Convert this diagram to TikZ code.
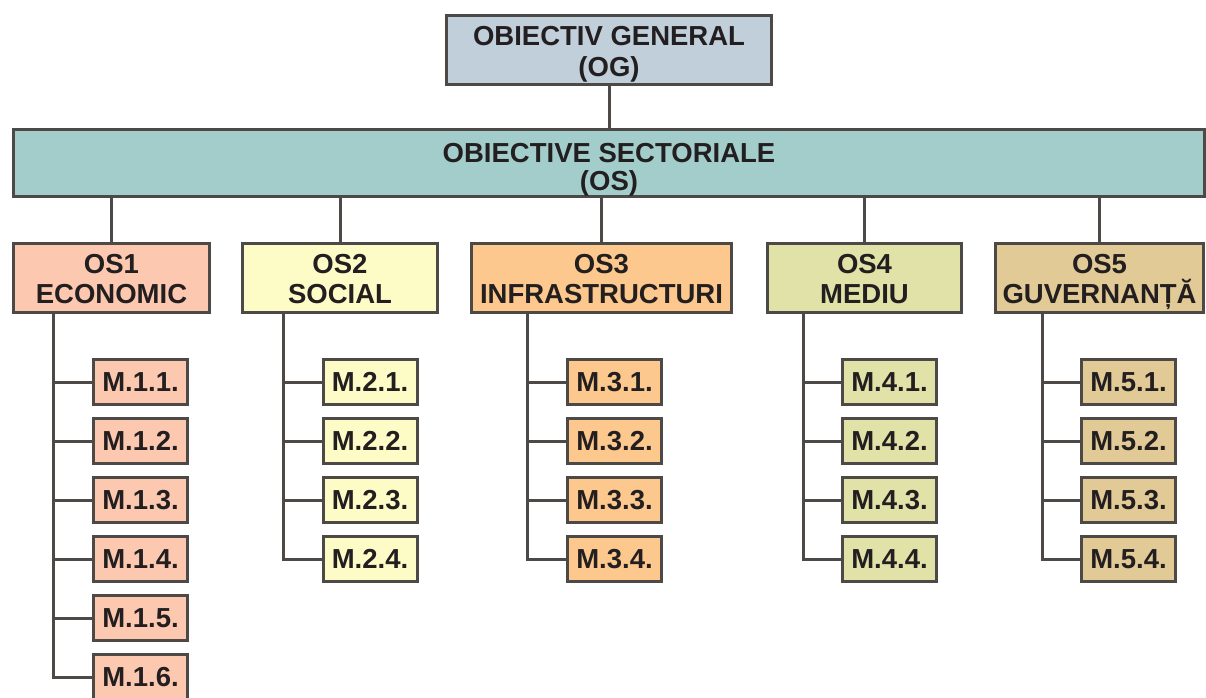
\documentclass[tikz,border=0pt]{standalone}
\usepackage{fontspec}
\setmainfont{Liberation Sans}
\usepackage{xcolor}
\usepackage{tikz}

\definecolor{edge}{HTML}{4D4946}
\definecolor{ink}{HTML}{231F20}
\definecolor{ogfill}{HTML}{C1CFDA}
\definecolor{osfill}{HTML}{A2CDCB}
\definecolor{osA}{HTML}{FDC8B0}
\definecolor{osB}{HTML}{FEFCC6}
\definecolor{osC}{HTML}{FDC88D}
\definecolor{osD}{HTML}{E0E2A7}
\definecolor{osE}{HTML}{E2CA97}
% struts so two-line labels sit where the caps should be
\newcommand{\upstrut}[1][26.2pt]{\rule{0pt}{#1}}
\newcommand{\dnstrut}{\rule[-6pt]{0pt}{6pt}}

\begin{document}
\begin{tikzpicture}[x=1pt,y=-1pt,font=\fontsize{27.5}{30}\selectfont\bfseries,
  box/.style={draw=edge,line width=3pt,align=center,inner sep=0pt,text=ink},
  mbox/.style={box,minimum width=94pt,minimum height=45pt},
  link/.style={draw=edge,line width=3pt}]
  \useasboundingbox (0,0) rectangle (1206,697);
  % top levels
  \node[box,fill=ogfill,minimum width=325pt,minimum height=69pt] (og) at (609,50) {\upstrut[27pt]OBIECTIV GENERAL\\[1pt](OG)\dnstrut};
  \node[box,fill=osfill,minimum width=1191pt,minimum height=67pt] (os) at (609,163) {\upstrut[33.4pt]OBIECTIVE SECTORIALE\\[-2.5pt](OS)\dnstrut};
  \draw[link] (og.south) -- (og.south |- os.north);
  % sectoral objectives
  \foreach \i/\x/\w/\col/\name in {1/111.5/196/osA/ECONOMIC,2/340/195/osB/SOCIAL,
      3/601.5/260/osC/INFRASTRUCTURI,4/864.5/194/osD/MEDIU,5/1099.5/208/osE/GUVERNANȚĂ}{
    \node[box,fill=\col,minimum width=\w pt,minimum height=69pt] (os\i) at (\x,278) {\upstrut OS\i\\\name\dnstrut};
    \draw[link] (os\i.north) -- (os\i.north |- os.south);
  }
  % measures
  \foreach \i/\x/\t/\n/\col in {1/140.5/53/6/osA,2/370/283/4/osB,3/614.5/527/4/osC,
      4/889.5/803/4/osD,5/1128.5/1042/4/osE}{
    \coordinate (t\i) at (\t,0 |- os\i.south);
    \foreach \j in {1,...,\n}{
      \node[mbox,fill=\col] (m\i\j) at (\x,323+59*\j) {M.\i.\j.};
      \draw[link] (t\i) |- (m\i\j.west);
    }
  }
\end{tikzpicture}
\end{document}
